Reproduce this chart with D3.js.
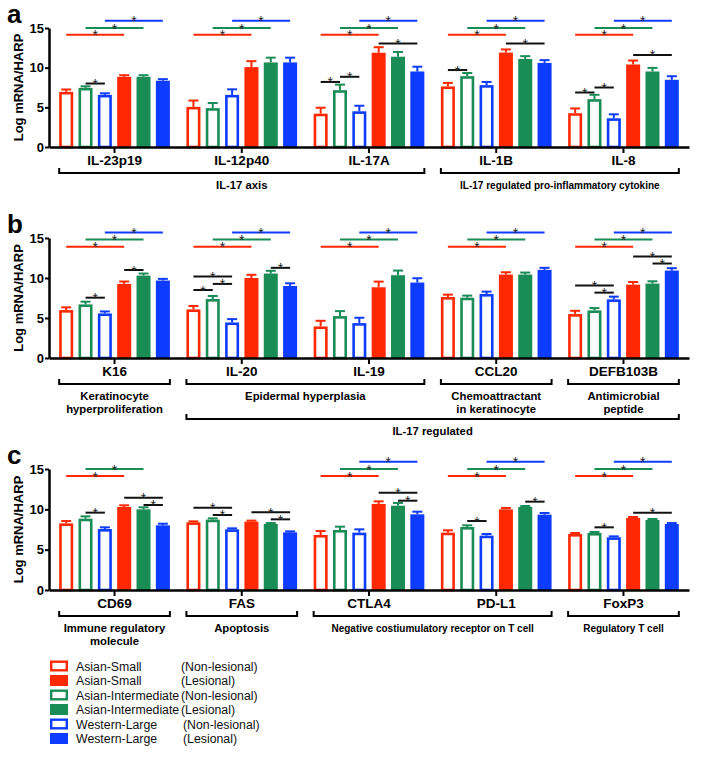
<!DOCTYPE html>
<html><head><meta charset="utf-8">
<script src="https://cdn.jsdelivr.net/npm/d3@7"></script>
<style>
body{margin:0;background:#fff}
text{font-family:"Liberation Sans",Arial,Helvetica,sans-serif}
</style>
</head><body>
<svg id="chart" width="705" height="758"></svg>
<script>
// ---------------- DATA ----------------
// bar order inside every group
const seriesKeys = ["AS-NL","AI-NL","WL-NL","AS-L","AI-L","WL-L"];
// legend entries (name, condition) in legend order, with their series key
const legendKeys = ["AS-NL","AS-L","AI-NL","AI-L","WL-NL","WL-L"];
const legendNames = ["Asian-Small","Asian-Small","Asian-Intermediate","Asian-Intermediate","Western-Large","Western-Large"];
const legendConds = ["(Non-lesional)","(Lesional)","(Non-lesional)","(Lesional)","(Non-lesional)","(Lesional)"];
const yTicks = [0,5,10,15];

// Panel a
const aCategories = ["IL-23p19","IL-12p40","IL-17A","IL-1B","IL-8"];
const aMeans = [
  [6.95,7.45,6.57,8.85,8.85,8.35],
  [5.06,4.90,6.57,10.07,10.66,10.66],
  [4.20,7.16,4.50,11.88,11.38,9.52],
  [7.63,8.93,7.80,11.90,11.10,10.60],
  [4.26,6.03,3.62,10.40,9.52,8.47]
];
const aErrors = [
  [0.30,0.20,0.20,0.20,0.20,0.20],
  [0.80,0.65,0.70,0.75,0.60,0.60],
  [0.75,0.70,0.70,0.70,0.60,0.60],
  [0.45,0.40,0.40,0.40,0.35,0.35],
  [0.60,0.55,0.50,0.50,0.45,0.45]
];
// significance bars: [category index, bar a, bar b, height]
const aSignif = [
  [0,0,3,14.15],[0,1,4,15.0],[0,2,5,15.9],[0,1,2,8.0],
  [1,0,3,14.15],[1,1,4,15.0],[1,2,5,15.9],
  [2,0,3,14.15],[2,1,4,15.0],[2,2,5,15.9],[2,0,1,8.2],[2,1,2,8.85],[2,3,5,13.06],
  [3,0,3,14.15],[3,1,4,15.0],[3,2,5,15.9],[3,0,1,9.7],[3,3,5,13.06],
  [4,0,3,14.15],[4,1,4,15.0],[4,2,5,15.9],[4,0,1,6.87],[4,1,2,7.5],[4,3,5,11.6]
];
// brackets: [first category, last category, label lines]
const aBrackets = [
  [0,2,["IL-17 axis"]],
  [3,4,["IL-17 regulated pro-inflammatory cytokine"]]
];

// Panel b
const bCategories = ["K16","IL-20","IL-19","CCL20","DEFB103B"];
const bMeans = [
  [5.99,6.70,5.57,9.26,10.30,9.68],
  [6.07,7.37,4.44,10.00,10.56,9.00],
  [3.94,5.24,4.36,8.84,10.35,9.43],
  [7.62,7.54,8.00,10.43,10.43,11.02],
  [5.49,5.95,7.33,9.17,9.30,10.93]
];
const bErrors = [
  [0.34,0.34,0.25,0.30,0.26,0.21],
  [0.43,0.38,0.42,0.40,0.34,0.34],
  [0.71,0.62,0.67,0.71,0.58,0.54],
  [0.30,0.26,0.30,0.29,0.25,0.25],
  [0.41,0.29,0.34,0.33,0.29,0.30]
];
const bSignif = [
  [0,0,3,13.9],[0,1,4,14.8],[0,2,5,15.7],[0,1,2,7.54],[0,3,4,11.0],
  [1,0,3,13.9],[1,1,4,14.8],[1,2,5,15.7],[1,0,1,8.5],[1,1,2,9.26],[1,0,2,10.18],[1,4,5,11.27],
  [2,0,3,13.9],[2,1,4,14.8],[2,2,5,15.7],
  [3,0,3,13.9],[3,1,4,14.8],[3,2,5,15.7],
  [4,0,3,13.9],[4,1,4,14.8],[4,2,5,15.7],[4,0,2,9.05],[4,1,2,8.17],[4,3,5,12.69],[4,4,5,11.81]
];
const bBrackets = [
  [0,0,["Keratinocyte","hyperproliferation"]],
  [1,2,["Epidermal hyperplasia"]],
  [3,3,["Chemoattractant","in keratinocyte"]],
  [4,4,["Antimicrobial","peptide"]]
];
const bOuterBrackets = [
  [1,4,["IL-17 regulated"]]
];

// Panel c
const cCategories = ["CD69","FAS","CTLA4","PD-L1","FoxP3"];
const cMeans = [
  [8.26,8.84,7.56,10.29,10.00,8.02],
  [8.39,8.72,7.52,8.47,8.18,7.15],
  [6.82,7.44,7.11,10.66,10.45,9.38],
  [7.11,7.81,6.74,10.00,10.29,9.34],
  [6.94,7.07,6.53,8.93,8.68,8.18]
];
const cErrors = [
  [0.29,0.29,0.21,0.21,0.25,0.20],
  [0.12,0.16,0.12,0.13,0.12,0.12],
  [0.49,0.41,0.41,0.33,0.34,0.33],
  [0.29,0.21,0.20,0.17,0.12,0.21],
  [0.13,0.12,0.12,0.12,0.12,0.12]
];
const cSignif = [
  [0,0,3,14.13],[0,1,4,15.0],[0,1,2,9.59],[0,3,5,11.45],[0,4,5,10.54],
  [1,0,2,10.2],[1,1,2,9.3],[1,3,5,9.63],[1,4,5,8.76],
  [2,0,3,14.13],[2,1,4,15.0],[2,2,5,15.9],[2,3,5,12.07],[2,4,5,11.07],
  [3,0,3,14.13],[3,1,4,15.0],[3,2,5,15.9],[3,1,2,8.55],[3,4,5,10.95],
  [4,0,3,14.13],[4,1,4,15.0],[4,2,5,15.9],[4,1,2,7.77],[4,3,5,9.59]
];
const cBrackets = [
  [0,0,["Immune regulatory","molecule"]],
  [1,1,["Apoptosis"]],
  [2,3,["Negative costiumulatory receptor on T cell"]],
  [4,4,["Regulatory T cell"]]
];

// ---------------- STYLE / LAYOUT ----------------
const palette = ["#ff2800","#1a8c56","#0d3cff"];
const colorOf = k => palette[["AS","AI","WL"].indexOf(k.split("-")[0])];
const isOpen = k => k.endsWith("NL");
const compactLabels = new Set(["IL-17 regulated pro-inflammatory cytokine","Negative costiumulatory receptor on T cell","Regulatory T cell"]);

const svg = d3.select("#chart");
const xRange = [49, 689];

function drawPanel(p){
  const g = svg.append("g");
  const y = d3.scaleLinear().domain([0,15]).range([p.bottom, p.top]);
  const x0 = d3.scaleBand().domain(p.cats).range(xRange).paddingInner(0.13).paddingOuter(0.08);
  const x1 = d3.scaleBand().domain(seriesKeys).range([0, x0.bandwidth()]).paddingInner(0.275).paddingOuter(0);
  const bw = x1.bandwidth();
  const cx = (ci, si) => x0(p.cats[ci]) + x1(seriesKeys[si]) + bw/2;

  // bars + error bars
  p.cats.forEach((c, ci) => {
    seriesKeys.forEach((k, si) => {
      const v = p.means[ci][si], e = p.errs[ci][si];
      const col = colorOf(k);
      const xc = cx(ci, si);
      g.append("line").attr("x1", xc).attr("x2", xc).attr("y1", y(v)).attr("y2", y(v+e))
        .attr("stroke", col).attr("stroke-width", 2);
      g.append("line").attr("x1", xc-5).attr("x2", xc+5).attr("y1", y(v+e)).attr("y2", y(v+e))
        .attr("stroke", col).attr("stroke-width", 2);
      if (isOpen(k)) {
        const sw = 2.6;
        g.append("rect").attr("x", xc-bw/2+sw/2).attr("y", y(v)+sw/2)
          .attr("width", bw-sw).attr("height", y(0)-y(v)-sw/2)
          .attr("fill", "#fff").attr("stroke", col).attr("stroke-width", sw);
      } else {
        g.append("rect").attr("x", xc-bw/2).attr("y", y(v))
          .attr("width", bw).attr("height", y(0)-y(v)).attr("fill", col);
      }
    });
  });

  // significance lines
  p.sig.forEach(([ci, a, b, h]) => {
    const col = (b === a+3) ? colorOf(seriesKeys[a]) : "#111";
    const xa = cx(ci, a), xb = cx(ci, b), yy = y(h);
    g.append("line").attr("x1", xa).attr("x2", xb).attr("y1", yy).attr("y2", yy)
      .attr("stroke", col).attr("stroke-width", 2);
    g.append("text").attr("x", (xa+xb)/2).attr("y", yy+5.5).attr("text-anchor","middle")
      .attr("font-size", 14).attr("fill","#222").text("*");
  });

  // y axis
  const ya = g.append("g").attr("transform", `translate(${xRange[0]},0)`)
    .call(d3.axisLeft(y).tickValues(yTicks).tickSize(4).tickSizeOuter(0).tickPadding(1));
  ya.select(".domain").attr("stroke","#000").attr("stroke-width",2.5);
  ya.selectAll(".tick line").attr("stroke","#000").attr("stroke-width",2);
  ya.selectAll(".tick text").attr("font-size",13).attr("font-weight","bold").attr("fill","#000")
    .attr("font-family",'"Liberation Sans",Arial,sans-serif');

  // x axis
  const xa = g.append("g").attr("transform", `translate(0,${p.bottom})`)
    .call(d3.axisBottom(x0).tickSize(6).tickSizeOuter(0).tickPadding(2));
  xa.select(".domain").attr("stroke","#000").attr("stroke-width",2.5);
  xa.selectAll(".tick line").attr("stroke","#000").attr("stroke-width",2);
  xa.selectAll(".tick text").attr("font-size",13.5).attr("font-weight","bold").attr("fill","#000")
    .attr("font-family",'"Liberation Sans",Arial,sans-serif');

  // y label
  g.append("text").attr("transform", `translate(22.5,${(p.top+p.bottom)/2}) rotate(-90)`)
    .attr("text-anchor","middle").attr("font-size",13).attr("font-weight","bold").text("Log mRNA/HARP");

  // panel letter
  g.append("text").attr("x", 7).attr("y", p.top-5).attr("font-size",26).attr("font-weight","bold").text(p.letter);

  // brackets
  const drawBracket = (from, to, lines, yLine) => {
    const xl = x0(p.cats[from]), xr = x0(p.cats[to]) + x0.bandwidth();
    g.append("path").attr("d", `M${xl},${yLine-5}V${yLine}H${xr}V${yLine-5}`)
      .attr("fill","none").attr("stroke","#000").attr("stroke-width",2);
    lines.forEach((t, i) => {
      const fs = compactLabels.has(t) ? 10 : 11.3;
      g.append("text").attr("x", (xl+xr)/2).attr("y", yLine + 16 + i*13)
        .attr("text-anchor","middle").attr("font-size", fs).attr("font-weight","bold").text(t);
    });
  };
  p.brackets.forEach(([f, t, lines]) => drawBracket(f, t, lines, p.bottom + 26));
  (p.outer || []).forEach(([f, t, lines]) => drawBracket(f, t, lines, p.bottom + 61));
}

drawPanel({letter:"a", cats:aCategories, means:aMeans, errs:aErrors, sig:aSignif, brackets:aBrackets, top:28, bottom:147});
drawPanel({letter:"b", cats:bCategories, means:bMeans, errs:bErrors, sig:bSignif, brackets:bBrackets, outer:bOuterBrackets, top:238, bottom:358});
drawPanel({letter:"c", cats:cCategories, means:cMeans, errs:cErrors, sig:cSignif, brackets:cBrackets, top:469, bottom:590});

// legend
const lg = svg.append("g");
legendKeys.forEach((k, i) => {
  const cy = 666 + i*14.5;
  const col = colorOf(k);
  if (isOpen(k)) {
    lg.append("rect").attr("x", 51.2).attr("y", cy-4.3).attr("width", 15.6).attr("height", 8.6)
      .attr("fill","#fff").attr("stroke", col).attr("stroke-width", 2.4);
  } else {
    lg.append("rect").attr("x", 50).attr("y", cy-5.5).attr("width", 18).attr("height", 11).attr("fill", col);
  }
  lg.append("text").attr("x", 76).attr("y", cy+4.5).attr("font-size",12.3).attr("fill","#111").text(legendNames[i]);
  lg.append("text").attr("x", legendNames[i].startsWith("Western") ? 183 : 181).attr("y", cy+4.5)
    .attr("font-size",12.3).attr("fill","#111").text(legendConds[i]);
});
</script>
</body></html>
